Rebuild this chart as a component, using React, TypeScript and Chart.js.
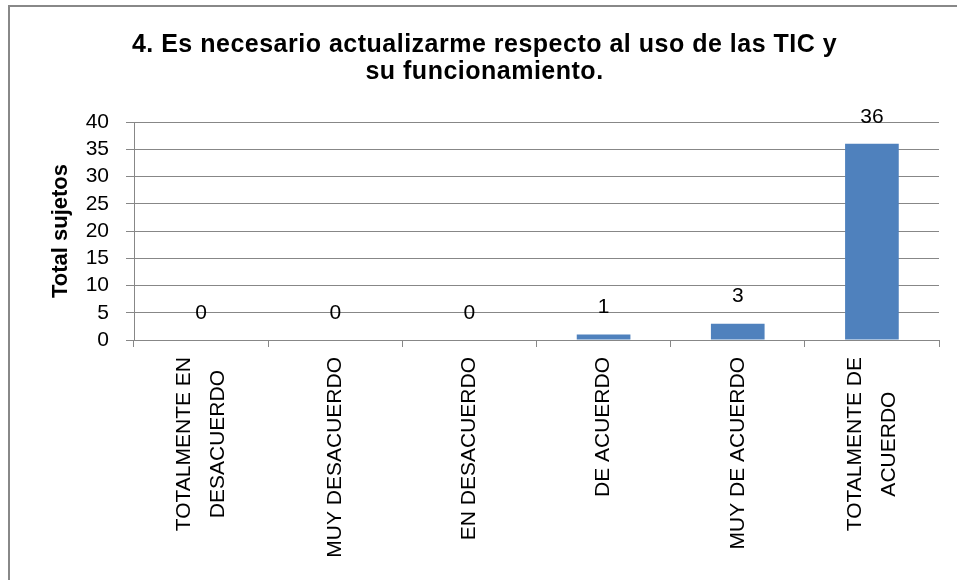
import React, { useEffect, useRef } from 'react';
import { Chart, registerables } from 'chart.js';

Chart.register(...registerables);

const TITLE_LINES = [
  '4. Es necesario actualizarme respecto al uso de las TIC y',
  'su funcionamiento.',
];
const CATEGORIES: string[][] = [
  ['TOTALMENTE EN', 'DESACUERDO'],
  ['MUY DESACUERDO'],
  ['EN DESACUERDO'],
  ['DE ACUERDO'],
  ['MUY DE ACUERDO'],
  ['TOTALMENTE DE', 'ACUERDO'],
];
const VALUES = [0, 0, 0, 1, 3, 36];
const Y_TITLE = 'Total sujetos';
const Y_MIN = 0;
const Y_MAX = 40;
const Y_STEP = 5;

const GRAY = '#878787';
const BAR = '#4F81BD';
const FONT = '"Liberation Sans", Arial, sans-serif';

const overlayPlugin = {
  id: 'overlayText',
  afterDraw(chart: any) {
    const ctx = chart.ctx as CanvasRenderingContext2D;
    const area = chart.chartArea;
    const xs = chart.scales.x;
    ctx.save();
    ctx.fillStyle = '#000';

    // title
    ctx.font = `bold 25px ${FONT}`;
    (ctx as any).letterSpacing = '0.5px';
    ctx.textAlign = 'center';
    ctx.textBaseline = 'alphabetic';
    const tcx = chart.width / 2 + 6;
    TITLE_LINES.forEach((t, i) => ctx.fillText(t, tcx, 52 + i * 27));
    (ctx as any).letterSpacing = '0px';

    // category labels (rotated, lines centred as a block)
    ctx.font = `21px ${FONT}`;
    const top = area.bottom + 17;
    (chart.data.labels as any[]).forEach((lab, i) => {
      const lines: string[] = Array.isArray(lab) ? lab : [String(lab)];
      const cx = xs.getPixelForValue(i);
      const maxW = Math.max(...lines.map((l) => ctx.measureText(l).width));
      lines.forEach((ln, j) => {
        const x = cx + (j - (lines.length - 1) / 2) * 34;
        ctx.save();
        ctx.translate(x, top + maxW / 2);
        ctx.rotate(-Math.PI / 2);
        ctx.textAlign = 'center';
        ctx.textBaseline = 'middle';
        ctx.fillText(ln, 0, 0);
        ctx.restore();
      });
    });

    // data labels
    const meta = chart.getDatasetMeta(0);
    ctx.textAlign = 'center';
    ctx.textBaseline = 'middle';
    meta.data.forEach((bar: any, i: number) => {
      const v = chart.data.datasets[0].data[i];
      ctx.fillText(String(v), bar.x, bar.y - 27);
    });
    ctx.restore();
  },
};

export default function App() {
  const ref = useRef<HTMLCanvasElement | null>(null);

  useEffect(() => {
    if (!ref.current) return;
    const chart = new Chart(ref.current, {
      type: 'bar',
      data: {
        labels: CATEGORIES,
        datasets: [
          {
            data: VALUES,
            backgroundColor: BAR,
            borderWidth: 0,
            categoryPercentage: 1,
            barPercentage: 0.4,
          },
        ],
      },
      options: {
        animation: false,
        responsive: false,
        maintainAspectRatio: false,
        layout: { padding: { top: 122, left: 48, right: 18, bottom: 0 } },
        plugins: {
          legend: { display: false },
          tooltip: { enabled: false },
          title: { display: false },
        },
        scales: {
          x: {
            ticks: { display: false },
            grid: {
              display: true,
              drawOnChartArea: false,
              drawTicks: true,
              tickLength: 7,
              color: GRAY,
              offset: true,
            },
            border: { display: true, color: GRAY, width: 1 },
            afterFit(s: any) {
              s.height = 240;
            },
          },
          y: {
            min: Y_MIN,
            max: Y_MAX,
            ticks: {
              stepSize: Y_STEP,
              autoSkip: false,
              color: '#000',
              font: { family: FONT, size: 21, lineHeight: 1 },
              padding: 17,
            },
            grid: { color: GRAY, tickLength: 8, lineWidth: 1 },
            border: { display: true, color: GRAY, width: 1 },
            title: {
              display: true,
              text: Y_TITLE,
              color: '#000',
              font: { family: FONT, size: 22, weight: 'bold' },
              padding: 0,
            },
            afterFit(s: any) {
              s.width = 86;
            },
          },
        },
      },
      plugins: [overlayPlugin],
    });
    return () => chart.destroy();
  }, []);

  return (
    <div style={{ position: 'absolute', left: 0, top: 0, width: 957, height: 580, background: '#fff', overflow: 'hidden' }}>
      <div
        style={{
          position: 'absolute',
          left: 8,
          top: 5,
          right: -10,
          bottom: -10,
          borderLeft: '2px solid #888',
          borderTop: '2px solid #888',
        }}
      />
      <canvas ref={ref} width={957} height={580} style={{ position: 'absolute', left: 0, top: 0, width: 957, height: 580 }} />
    </div>
  );
}
